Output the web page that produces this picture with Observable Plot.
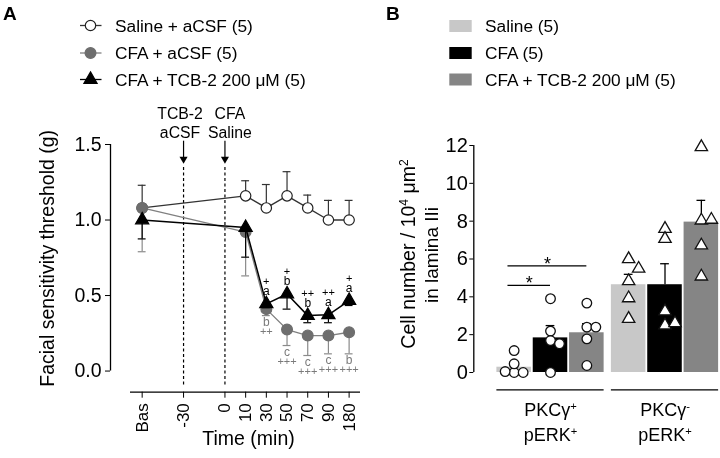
<!DOCTYPE html>
<html><head><meta charset="utf-8">
<script src="https://cdn.jsdelivr.net/npm/d3@7"></script>
<script src="https://cdn.jsdelivr.net/npm/@observablehq/plot@0.6"></script>
<style>
body{margin:0;background:#fff;}
#fig{position:relative;width:720px;height:458px;overflow:hidden;background:#fff;font-family:"Liberation Sans",Arial,Helvetica,sans-serif;color:#000;}
.panel{position:absolute;top:95px;will-change:transform;}
#overlay{position:absolute;left:0;top:0;pointer-events:none;will-change:transform;}
</style></head><body><div id="fig"></div>
<script>
// ---------- Panel A data ----------
const timeLabels = ["Bas", "-30", "0", "10", "30", "50", "70", "90", "180"];
const measuredTimes = ["Bas", "10", "30", "50", "70", "90", "180"];
const salineMean    = [1.08, 1.16, 1.08, 1.16, 1.08, 1.00, 1.00];
const salineErrHigh = [1.23, 1.26, 1.235, 1.32, 1.165, 1.13, 1.13];
const cfaMean       = [1.08, 0.92, 0.41, 0.275, 0.235, 0.235, 0.257];
const cfaErrLow     = [0.79, 0.63, 0.367, 0.169, 0.103, 0.114, 0.114];
const tcbMean       = [1.00, 0.95, 0.445, 0.51, 0.367, 0.372, 0.467];
const tcbErrLow     = [0.875, 0.754, 0.42, 0.41, 0.32, 0.32, 0.434];
const tcbLetters = [null, null, "a", "b", "b", "a", "a"];
const tcbPlus    = [null, null, "+", "+", "++", "++", "+"];
const cfaLetters = [null, null, "b", "c", "c", "c", "b"];
const cfaPlus    = [null, null, "++", "+++", "+++", "+++", "+++"];
const injectionTimes  = ["-30", "0"];
const injectionLabels = ["TCB-2\naCSF", "CFA\nSaline"];
const yTicksA = [0, 0.5, 1.0, 1.5];
const seriesNamesA = ["Saline + aCSF (5)", "CFA + aCSF (5)", "CFA + TCB-2 200 μM (5)"];

// ---------- Panel B data ----------
const treatments = ["Saline (5)", "CFA (5)", "CFA + TCB-2 200 μM (5)"];
const barColors = ["#c8c8c8", "#000000", "#858585"];
const groupLine1 = ["PKCγ^+", "PKCγ^-"];
const groupLine2 = ["pERK^+", "pERK^+"];
const barSaline = [0.28, 4.64];
const barCFA    = [1.83, 4.64];
const barTCB    = [2.10, 7.95];
const semTopSaline = [0.54, 5.19];
const semTopCFA    = [2.48, 5.75];
const semTopTCB    = [2.58, 9.10];
const dotsPosSaline = [0, 0, 0.05, 0.46, 1.16];
const dotsPosCFA    = [3.90, 2.19, 1.69, 1.52, 0];
const dotsPosTCB    = [3.67, 2.40, 2.40, 1.78, 0.37];
const dotsNegSaline = [6.00, 5.49, 4.83, 3.93, 2.84];
const dotsNegCFA    = [7.60, 7.07, 3.24, 2.49, 2.61];
const dotsNegTCB    = [11.92, 8.04, 8.08, 6.72, 5.08];
const yTicksB = [0, 2, 4, 6, 8, 10, 12];
const sigFrom = [0, 0], sigTo = [1, 2], sigLevel = [4.61, 5.64], sigLabel = ["*", "*"];

// ---------- helpers ----------
const FONT = '"Liberation Sans", Arial, Helvetica, sans-serif';
const baseStyle = {fontFamily: FONT, fontSize: "17px", color: "#000", background: "transparent", overflow: "visible"};
const fig = document.getElementById("fig");

function superscripts(svg) {
  d3.select(svg).selectAll("text, tspan").each(function () {
    if (this.children.length) return;
    const t = this.textContent;
    if (!t.includes("^")) return;
    const parts = t.split(/\^(\S)/);
    const el = d3.select(this);
    el.text(null);
    parts.forEach((p, i) => {
      if (!p) return;
      const ts = el.append("tspan").text(p);
      if (i % 2 === 1) ts.attr("baseline-shift", "super").attr("font-size", "62%");
    });
  });
}

// ================= Panel A =================
const slotOf = t => { const i = timeLabels.indexOf(t); return i + Math.min(i, 2); };
const rowsOf = (means, errs, letters, plus) => measuredTimes.map((t, i) => ({slot: slotOf(t), v: means[i], e: errs[i], letter: letters ? letters[i] : null, plus: plus ? plus[i] : null}));
const salineRows = rowsOf(salineMean, salineErrHigh, null, null);
const cfaRows = rowsOf(cfaMean, cfaErrLow, cfaLetters, cfaPlus);
const tcbRows = rowsOf(tcbMean, tcbErrLow, tcbLetters, tcbPlus);
const injections = injectionTimes.map((t, i) => ({slot: slotOf(t), label: injectionLabels[i]}));

const styleA = [
  {line: "#333", err: "#333", fill: "#fff", stroke: "#222", symbol: "circle", r: 5.2, lw: 1.3},
  {line: "#808080", err: "#8a8a8a", fill: "#6e6e6e", stroke: "#6e6e6e", symbol: "circle", r: 5.4, lw: 1.3},
  {line: "#000", err: "#000", fill: "#000", stroke: "#000", symbol: "triangle", r: 4.9, lw: 1.5}
];
const capA = 0.19;
function seriesMarks(rows, st) {
  return [
    Plot.line(rows, {x: "slot", y: "v", stroke: st.line, strokeWidth: st.lw}),
    Plot.ruleX(rows, {x: "slot", y1: "v", y2: "e", stroke: st.err, strokeWidth: 1.2}),
    Plot.ruleY(rows, {y: "e", x1: d => d.slot - capA, x2: d => d.slot + capA, stroke: st.err, strokeWidth: 1.2}),
    Plot.dot(rows, {x: "slot", y: "v", symbol: st.symbol, r: st.r, fill: st.fill, stroke: st.stroke, strokeWidth: 1.2})
  ];
}
const statFont = 11;
const tcbStatRows = tcbRows.filter(d => d.letter);
const cfaStatRows = cfaRows.filter(d => d.letter);

const xDomA = [-1.53, 10.55];
const yDomA = [-0.14, 1.5];
const plotA = Plot.plot({
  width: 360, height: 363,
  marginLeft: 110, marginRight: 0, marginTop: 49, marginBottom: 66.3,
  x: {domain: xDomA, axis: null},
  y: {domain: yDomA},
  style: baseStyle,
  marks: [
    Plot.ruleY([yDomA[0]], {insetLeft: 20, stroke: "#000", strokeWidth: 1.3}),
    Plot.ruleX([xDomA[0]], {y1: yTicksA[0], y2: yTicksA[yTicksA.length - 1], stroke: "#000", strokeWidth: 1.3}),
    Plot.axisY({ticks: yTicksA, tickFormat: d3.format(".1f"), tickSize: 5, tickPadding: 4, fontSize: 19.5, label: null}),
    Plot.axisX({ticks: timeLabels.map(slotOf), tickFormat: s => timeLabels[timeLabels.map(slotOf).indexOf(s)],
      tickRotate: -90, tickSize: 6, tickPadding: 5, fontSize: 17, label: null}),
    Plot.ruleX(injections, {x: "slot", insetTop: 23, insetBottom: 4.7, stroke: "#000", strokeWidth: 1.2, strokeDasharray: "3,2.5"}),
    Plot.ruleX(injections, {x: "slot", insetTop: -3.3, insetBottom: 234, stroke: "#000", strokeWidth: 1.2}),
    Plot.dot(injections, {x: "slot", frameAnchor: "top", dy: 14.5, symbol: "triangle", r: 3, rotate: 180, fill: "#000", stroke: "none"}),
    Plot.text(injections.slice(0, 1), {x: "slot", text: "label", frameAnchor: "top", lineAnchor: "bottom", dx: -3.5, dy: -6.5, fontSize: 15.8, lineHeight: 1.2}),
    Plot.text(injections.slice(1), {x: "slot", text: "label", frameAnchor: "top", lineAnchor: "bottom", dx: 5, dy: -6.5, fontSize: 15.8, lineHeight: 1.2}),
    ...seriesMarks(salineRows, styleA[0]),
    ...seriesMarks(cfaRows, styleA[1]),
    ...seriesMarks(tcbRows, styleA[2]),
    // significance letters above the TCB-2 triangles
    Plot.text(tcbStatRows, {x: "slot", y: "v", text: "letter", lineAnchor: "bottom", dy: -9, fontSize: statFont + 1, fill: "#000"}),
    Plot.text(tcbStatRows, {x: "slot", y: "v", text: "plus", lineAnchor: "bottom", dy: -19, fontSize: statFont, fill: "#000"}),
    // significance letters below the CFA circles
    Plot.text(cfaStatRows, {x: "slot", y: "e", text: "letter", lineAnchor: "top", dy: 1.5, fontSize: statFont + 1, fill: "#7a7a7a"}),
    Plot.text(cfaStatRows, {x: "slot", y: "e", text: "plus", lineAnchor: "top", dy: 11.5, fontSize: statFont, fill: "#7a7a7a"}),
    Plot.text(["Facial sensitivity threshold (g)"], {text: d => d, frameAnchor: "left", textAnchor: "middle", lineAnchor: "middle", rotate: -90, dx: -63, dy: -10, fontSize: 19.5}),
    Plot.text(["Time (min)"], {text: d => d, frameAnchor: "bottom", dx: 13, dy: 53, fontSize: 19.5})
  ]
});
plotA.classList.add("panel");
plotA.style.left = "0px";
fig.appendChild(plotA);

// ================= Panel B =================
const WB = 360, HB = 363, mlB = 113.3, mrB = 1.7, mtB = 50, mbB = 86;
const xDomB = [-1.11, 5.63], yDomB = [0, 12];
const groupGap = 0.15, halfBar = 0.475;
const posOf = (gi, ti) => gi * (treatments.length + groupGap) + ti;
const pxX = (WB - mlB - mrB) / (xDomB[1] - xDomB[0]);
const pxY = (HB - mtB - mbB) / (yDomB[1] - yDomB[0]);

const barMeans = [barSaline, barCFA, barTCB];
const barSems = [semTopSaline, semTopCFA, semTopTCB];
const bars = [];
groupLine1.forEach((g, gi) => treatments.forEach((t, ti) => bars.push({gi, ti, pos: posOf(gi, ti), mean: barMeans[ti][gi], err: barSems[ti][gi], treatment: t})));

function swarm(values, step, minD) {
  const placed = [];
  return values.map(v => {
    for (const k of [0, 1, -1, 2, -2, 3, -3]) {
      const ox = k * step;
      if (placed.every(p => Math.hypot(p.ox - ox, (p.v - v) * pxY) >= minD)) { placed.push({ox, v}); return ox / pxX; }
    }
    return 0;
  });
}
const dotSets = [[dotsPosSaline, dotsPosCFA, dotsPosTCB], [dotsNegSaline, dotsNegCFA, dotsNegTCB]];
const swarmSpacing = [[9, 8], [10, 10]];
const dots = [];
dotSets.forEach((set, gi) => set.forEach((vals, ti) => {
  const off = swarm(vals, swarmSpacing[gi][0], swarmSpacing[gi][1]);
  vals.forEach((v, i) => dots.push({gi, x: posOf(gi, ti) + off[i], v}));
}));
const groupSpans = groupLine1.map((g, gi) => ({x1: posOf(gi, 0) - halfBar, x2: posOf(gi, treatments.length - 1) + halfBar, l1: groupLine1[gi], l2: groupLine2[gi]}));
const sigs = sigFrom.map((f, i) => ({x1: posOf(0, f) - 0.17, x2: posOf(0, sigTo[i]), y: sigLevel[i], label: sigLabel[i]}));

const plotB = Plot.plot({
  width: WB, height: HB,
  marginLeft: mlB, marginRight: mrB, marginTop: mtB, marginBottom: mbB,
  x: {domain: xDomB, axis: null},
  y: {domain: yDomB},
  color: {domain: treatments, range: barColors},
  style: baseStyle,
  marks: [
    Plot.ruleX([xDomB[0]], {y1: yTicksB[0], y2: yTicksB[yTicksB.length - 1], stroke: "#000", strokeWidth: 1.3}),
    Plot.axisY({ticks: yTicksB, tickSize: 4, tickPadding: 2, fontSize: 20, label: null}),
    Plot.rect(bars, {x1: d => d.pos - halfBar, x2: d => d.pos + halfBar, y1: () => 0, y2: "mean", fill: "treatment"}),
    Plot.ruleX(bars, {x: "pos", y1: "mean", y2: "err", stroke: "#000", strokeWidth: 1.3}),
    Plot.ruleY(bars, {y: "err", x1: d => d.pos - 0.12, x2: d => d.pos + 0.12, stroke: "#000", strokeWidth: 1.3}),
    Plot.dot(dots.filter(d => d.gi === 0), {x: "x", y: "v", r: 4.8, fill: "#fff", stroke: "#111", strokeWidth: 1.3}),
    Plot.dot(dots.filter(d => d.gi === 1), {x: "x", y: "v", symbol: "triangle", r: 4.6, fill: "#fff", stroke: "#111", strokeWidth: 1.3}),
    Plot.ruleY(sigs, {y: "y", x1: "x1", x2: "x2", stroke: "#000", strokeWidth: 1.3}),
    Plot.text(sigs, {x: d => (d.x1 + d.x2) / 2, y: "y", text: "label", lineAnchor: "bottom", dy: 4, fontSize: 18}),
    Plot.ruleY(groupSpans, {y: () => 0, x1: "x1", x2: "x2", dy: 17.3, stroke: "#000", strokeWidth: 1.3}),
    Plot.text(groupSpans, {x: d => (d.x1 + d.x2) / 2, y: () => 0, text: "l1", dy: 38, fontSize: 18}),
    Plot.text(groupSpans, {x: d => (d.x1 + d.x2) / 2, y: () => 0, text: "l2", dy: 63, fontSize: 18}),
    Plot.text(["Cell number / 10^4 μm^2"], {text: d => d, frameAnchor: "left", textAnchor: "middle", lineAnchor: "middle", rotate: -90, dx: -65, dy: -5, fontSize: 19.5}),
    Plot.text(["in lamina IIi"], {text: d => d, frameAnchor: "left", textAnchor: "middle", lineAnchor: "middle", rotate: -90, dx: -41.6, dy: -4, fontSize: 19})
  ]
});
superscripts(plotB);
plotB.classList.add("panel");
plotB.style.left = "360px";
fig.appendChild(plotB);

// ================= Legends & panel letters =================
const ov = d3.select(fig).append("svg").attr("id", "overlay").attr("width", 720).attr("height", 95)
  .style("font-family", FONT);
ov.append("text").attr("x", 3).attr("y", 19.5).attr("font-weight", "bold").attr("font-size", 19).text("A");
ov.append("text").attr("x", 386).attr("y", 20).attr("font-weight", "bold").attr("font-size", 19).text("B");
const rowsYA = [25.5, 53, 79.5];
seriesNamesA.forEach((name, i) => {
  const st = styleA[i], y = rowsYA[i];
  ov.append("line").attr("x1", 80).attr("x2", 101.5).attr("y1", y).attr("y2", y).attr("stroke", st.line).attr("stroke-width", 1.3);
  const sym = st.symbol === "triangle" ? d3.symbolTriangle : d3.symbolCircle;
  ov.append("path").attr("d", d3.symbol(sym, Math.PI * st.r * st.r)()).attr("transform", `translate(90.5,${y})`)
    .attr("fill", st.fill).attr("stroke", st.stroke).attr("stroke-width", 1.2);
  ov.append("text").attr("x", 115).attr("y", y).attr("dy", "0.35em").attr("font-size", 17.3).text(name);
});
const rowsYB = [26, 53, 79.5];
treatments.forEach((name, i) => {
  const y = rowsYB[i];
  ov.append("rect").attr("x", 449.3).attr("y", y - 6).attr("width", 22.4).attr("height", 12).attr("fill", barColors[i]);
  ov.append("text").attr("x", 485).attr("y", y).attr("dy", "0.35em").attr("font-size", 17.3).text(name);
});
</script></body></html>
